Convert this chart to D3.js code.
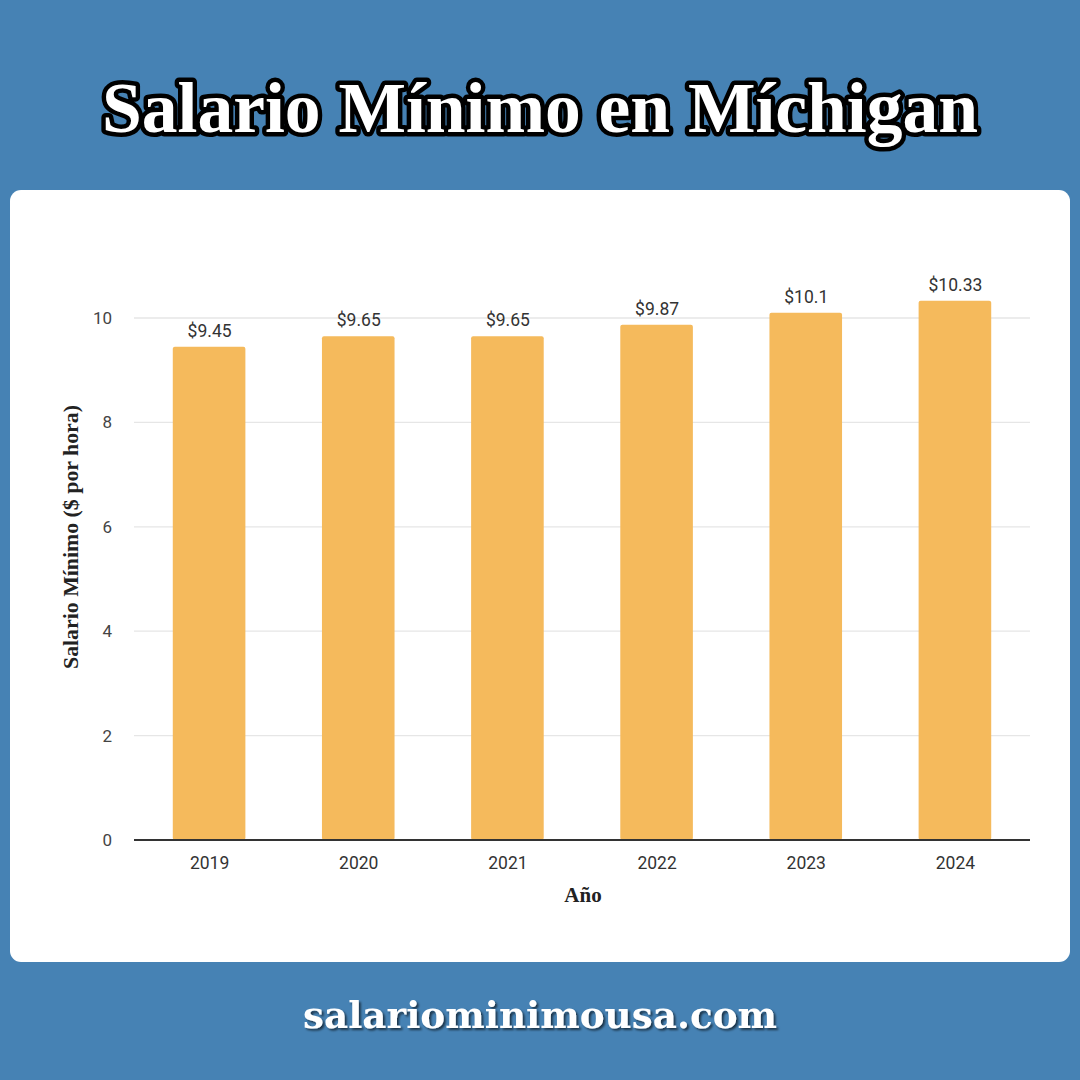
<!DOCTYPE html>
<html><head><meta charset="utf-8">
<script src="https://cdn.jsdelivr.net/npm/d3@7"></script>
<style>html,body{margin:0;padding:0;background:#4682b4;}</style>
</head><body>
<script>
const years = ["2019","2020","2021","2022","2023","2024"];
const wages = [9.45, 9.65, 9.65, 9.87, 10.1, 10.33];
const wageLabels = ["$9.45","$9.65","$9.65","$9.87","$10.1","$10.33"];
const yTicks = [0,2,4,6,8,10];

const W=1080,H=1080;
const svg=d3.select("body").append("svg").attr("width",W).attr("height",H);
svg.append("rect").attr("width",W).attr("height",H).attr("fill","#4682b4");

const defs=svg.append("defs");
const f=defs.append("filter").attr("id","sh").attr("x","-10%").attr("y","-30%").attr("width","120%").attr("height","160%");
f.append("feDropShadow").attr("dx",2).attr("dy",2).attr("stdDeviation",1.2).attr("flood-color","#000").attr("flood-opacity",0.6);

// title
svg.append("text").attr("x",540).attr("y",132).attr("text-anchor","middle")
  .attr("font-family","'Liberation Serif','DejaVu Serif',serif").attr("font-weight","bold")
  .attr("font-size",72).attr("fill","#fff").attr("stroke","#000").attr("stroke-width",9)
  .attr("stroke-linejoin","round").attr("paint-order","stroke")
  .attr("textLength",876).attr("lengthAdjust","spacingAndGlyphs")
  .text("Salario Mínimo en Míchigan");

// card
svg.append("rect").attr("x",10).attr("y",190).attr("width",1060).attr("height",772).attr("rx",11).attr("fill","#fff");

const x=d3.scaleBand().domain(years).range([135,1030]).paddingInner(0.52).paddingOuter(0.26);
const y=d3.scaleLinear().domain([0,10]).range([840,318]);

const g=svg.append("g");
// grid
g.selectAll(".grid").data(yTicks.filter(t=>t>0)).join("line")
  .attr("x1",134).attr("x2",1030).attr("y1",d=>y(d)).attr("y2",d=>y(d))
  .attr("stroke","#e6e6e6").attr("stroke-width",1.3);
// y labels
g.selectAll(".yl").data(yTicks).join("text")
  .attr("x",112).attr("y",d=>y(d)).attr("dy","0.35em").attr("text-anchor","end")
  .attr("font-family","Roboto,sans-serif").attr("font-size",17).attr("fill","#444")
  .text(d=>d);
// bars
g.selectAll(".bar").data(wages).join("rect")
  .attr("x",(d,i)=>x(years[i])-1).attr("width",x.bandwidth()+1)
  .attr("y",d=>y(d)).attr("height",d=>y(0)-y(d)).attr("rx",2)
  .attr("fill","#f5ba5c");
// value labels
g.selectAll(".vl").data(wages).join("text")
  .attr("x",(d,i)=>x(years[i])+x.bandwidth()/2).attr("y",d=>y(d)-10)
  .attr("text-anchor","middle").attr("font-family","Roboto,sans-serif").attr("font-size",17.5).attr("fill","#333")
  .text((d,i)=>wageLabels[i]);
// axis line
g.append("line").attr("x1",134).attr("x2",1030).attr("y1",y(0)).attr("y2",y(0)).attr("stroke","#333").attr("stroke-width",2);
// x labels
g.selectAll(".xl").data(years).join("text")
  .attr("x",d=>x(d)+x.bandwidth()/2).attr("y",869)
  .attr("text-anchor","middle").attr("font-family","Roboto,sans-serif").attr("font-size",17.5).attr("fill","#333")
  .text(d=>d);
// axis titles
svg.append("text").attr("x",583).attr("y",902).attr("text-anchor","middle")
  .attr("font-family","'Liberation Serif',serif").attr("font-weight","bold").attr("font-size",21).attr("fill","#222")
  .text("Año");
svg.append("text").attr("transform","translate(78,537) rotate(-90)").attr("text-anchor","middle")
  .attr("font-family","'Liberation Serif',serif").attr("font-weight","bold").attr("font-size",20).attr("fill","#222")
  .attr("textLength",264).attr("lengthAdjust","spacingAndGlyphs")
  .text("Salario Mínimo ($ por hora)");

// footer
svg.append("text").attr("x",540).attr("y",1028).attr("text-anchor","middle")
  .attr("font-family","'DejaVu Serif',serif").attr("font-weight","bold").attr("font-size",37).attr("fill","#fff")
  .attr("filter","url(#sh)").attr("textLength",474).attr("lengthAdjust","spacingAndGlyphs")
  .text("salariominimousa.com");
</script>
</body></html>
